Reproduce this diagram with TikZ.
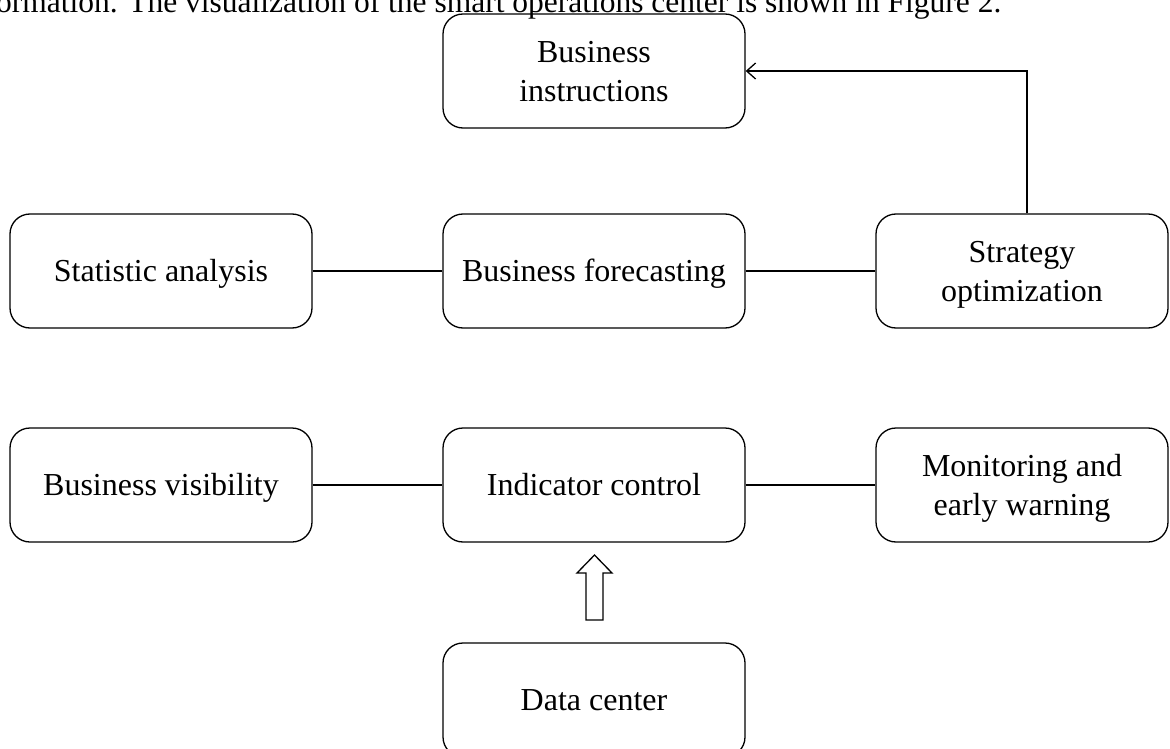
\documentclass[tikz,border=0pt]{standalone}
\usepackage{fontspec}
\setmainfont{Liberation Serif}
\usetikzlibrary{arrows.meta}
\begin{document}
\begin{tikzpicture}[x=1pt,y=-1pt,
  box/.style={draw=black, line width=1.3pt, rounded corners=20pt, align=center,
    minimum width=302pt, minimum height=114pt, inner sep=0pt,
    text height=21.5pt, text depth=0pt,
    font=\fontsize{32}{39}\selectfont},
  twoline/.style={text height={}},
  conn/.style={line width=1.3pt}]
\useasboundingbox (0,0) rectangle (1170,749);
\clip (0,0) rectangle (1170,749);
\node[anchor=base west, inner sep=0pt, font=\fontsize{31.5}{38}\selectfont] (top) at (-4,12.5)
  {ormation. The visualization of the smart operations center is shown in Figure 2.};
\node[box, twoline] (BI) at (594,71) {Business\\instructions};
\node[box] (SA) at (161,271) {Statistic analysis};
\node[box] (BF) at (594,271) {Business forecasting};
\node[box, twoline, minimum width=292pt] (SO) at (1022,271) {Strategy\\optimization};
\node[box] (BV) at (161,485) {Business visibility};
\node[box] (IC) at (594,485) {Indicator control};
\node[box, twoline, minimum width=292pt] (MW) at (1022,485) {Monitoring and\\early warning};
\node[box] (DC) at (594,700) {Data center};
\draw[conn] (SA) -- (BF);
\draw[conn] (BF) -- (SO);
\draw[conn] (BV) -- (IC);
\draw[conn] (IC) -- (MW);
\draw[conn, -{Straight Barb[length=9pt,width=16pt,line width=1.3pt]}] ([xshift=5pt]SO.north) |- (BI.east);
\draw[conn] (586,620) -- (603,620) -- (603,573) -- (612,573) -- (594.5,555) -- (577,573) -- (586,573) -- cycle;
\end{tikzpicture}
\end{document}
